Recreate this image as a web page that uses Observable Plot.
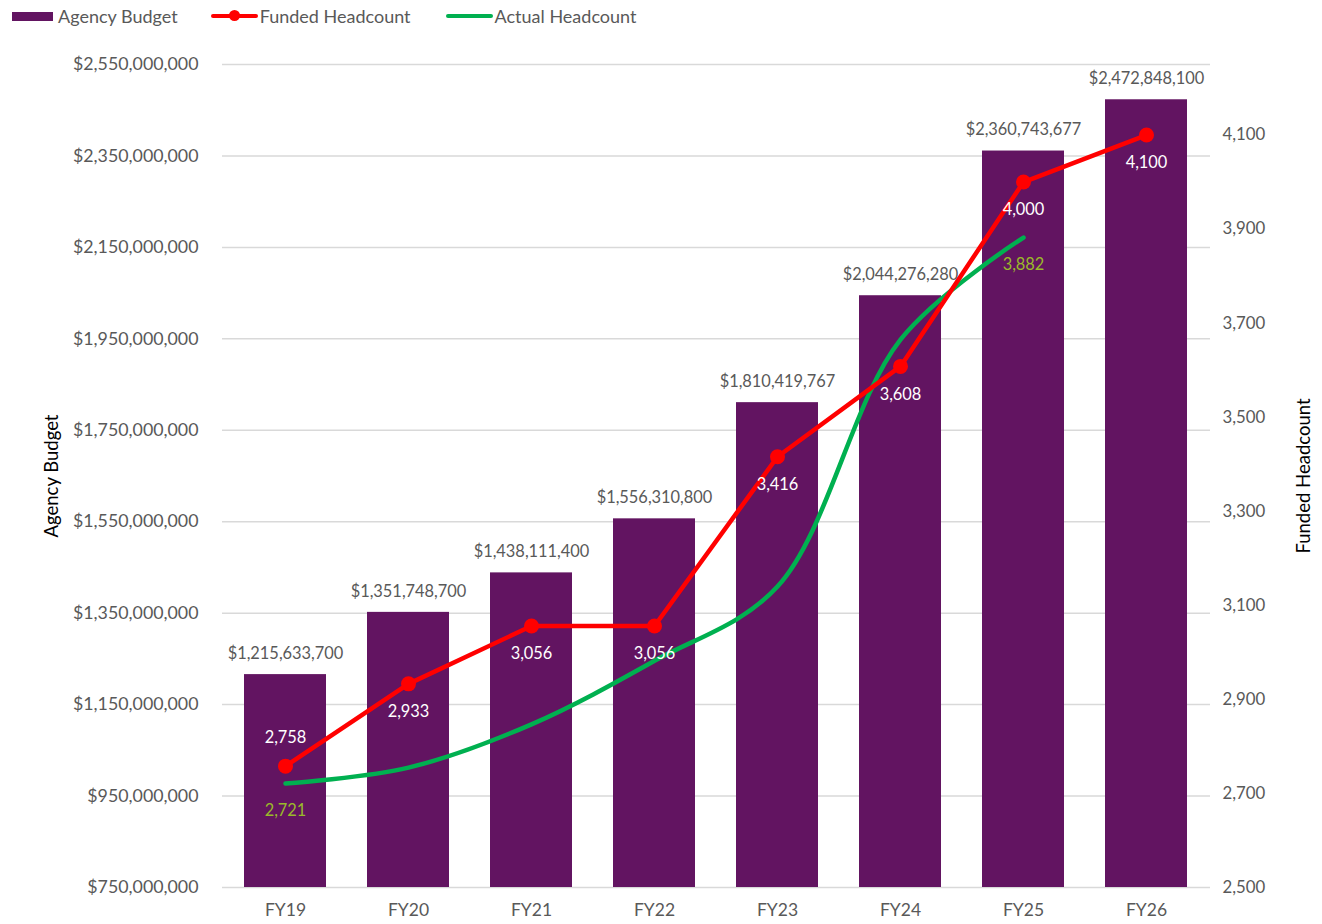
<!DOCTYPE html>
<html>
<head>
<meta charset="utf-8">
<script src="https://cdn.jsdelivr.net/npm/d3@7"></script>
<script src="https://cdn.jsdelivr.net/npm/@observablehq/plot@0.6"></script>
<style>
  html, body { margin: 0; padding: 0; background: #fff; }
  body { width: 1322px; height: 924px; overflow: hidden; font-family: Lato, "Open Sans", sans-serif; }
  .legend { height: 32px; display: flex; align-items: center; padding-left: 12px; font-size: 18px; color: #595959; }
  .item { display: flex; align-items: center; }
  .sw { display: inline-block; width: 41px; height: 9px; margin-right: 5px; }
  .ln { position: relative; display: inline-block; width: 47px; height: 4px; border-radius: 2px; margin-right: 2px; }
  .ln .dt { position: absolute; left: 18px; top: -4px; width: 11px; height: 11px; border-radius: 50%; background: #ff0000; }
  #chart svg { display: block; }
</style>
</head>
<body>
<div class="legend">
  <span class="item"><span class="sw" style="background:#621461"></span>Agency Budget</span>
  <span class="item" style="margin-left:33px"><span class="ln" style="background:#ff0000"><span class="dt"></span></span>Funded Headcount</span>
  <span class="item" style="margin-left:35px"><span class="ln" style="background:#00b050"></span>Actual Headcount</span>
</div>
<div id="chart"></div>
<script>
const years = ["FY19", "FY20", "FY21", "FY22", "FY23", "FY24", "FY25", "FY26"];
const budget = [1215633700, 1351748700, 1438111400, 1556310800, 1810419767, 2044276280, 2360743677, 2472848100];
const funded = [2758, 2933, 3056, 3056, 3416, 3608, 4000, 4100];
const actualYears = ["FY19", "FY20", "FY21", "FY22", "FY23", "FY24", "FY25"];
const actual = [2721, 2755, 2847, 2982, 3140, 3665, 3882];
const actualLabeled = ["FY19", "FY25"];
const leftTicks = [750e6, 950e6, 1150e6, 1350e6, 1550e6, 1750e6, 1950e6, 2150e6, 2350e6, 2550e6];
const rightTicks = [2500, 2700, 2900, 3100, 3300, 3500, 3700, 3900, 4100];
const leftDomain = [750e6, 2550e6];
const rightDomain = [2500, 4250];

// map headcount onto the primary (budget) y scale for the secondary axis
const hc = d3.scaleLinear(rightDomain, leftDomain);

const budgetData = years.map((y, i) => ({year: y, budget: budget[i]}));
const fundedData = years.map((y, i) => ({year: y, funded: funded[i]}));
const actualData = actualYears.map((y, i) => ({year: y, actual: actual[i]}));

const fmtMoney = d => "$" + d3.format(",")(d);
const fmtNum = d3.format(",");

const chart = Plot.plot({
  width: 1322,
  height: 892,
  marginTop: 32,
  marginBottom: 37,
  marginLeft: 222,
  marginRight: 112,
  style: {fontFamily: "Lato, 'Open Sans', sans-serif", fontSize: "16px", color: "#595959", background: "#fff"},
  x: {domain: years, paddingInner: 0.33, paddingOuter: 0.165, label: null},
  y: {domain: leftDomain, label: null},
  marks: [
    Plot.gridY(leftTicks, {stroke: "#d9d9d9", strokeOpacity: 1, strokeWidth: 1.5}),
    Plot.barY(budgetData, {x: "year", y1: () => leftDomain[0], y2: "budget", fill: "#621461"}),
    Plot.axisY(leftTicks, {anchor: "left", tickSize: 0, tickPadding: 24, tickFormat: fmtMoney, label: null, fontSize: 17.8}),
    Plot.axisY(rightTicks.map(hc), {anchor: "right", tickSize: 0, tickPadding: 12, tickFormat: d => fmtNum(Math.round(hc.invert(d))), label: null, fontSize: 16.8}),
    Plot.axisX({tickSize: 0, tickPadding: 16, label: null, fontSize: 17.5}),
    Plot.text(["Agency Budget"], {text: d => d, frameAnchor: "left", textAnchor: "middle", dx: -170, rotate: -90, fill: "#000", fontSize: 18.5}),
    Plot.text(["Funded Headcount"], {text: d => d, frameAnchor: "right", textAnchor: "middle", dx: 94, rotate: -90, fill: "#000", fontSize: 18.5}),
    Plot.text(budgetData, {x: "year", y: "budget", text: d => fmtMoney(d.budget), dy: -21, fill: "#595959", fontSize: 16.4}),
    Plot.lineY(actualData, {x: "year", y: d => hc(d.actual), curve: "catmull-rom", stroke: "#00b050", strokeWidth: 4.5, strokeLinecap: "round"}),
    Plot.lineY(fundedData, {x: "year", y: d => hc(d.funded), stroke: "#ff0000", strokeWidth: 4.5, strokeLinejoin: "round"}),
    Plot.dot(fundedData, {x: "year", y: d => hc(d.funded), r: 7.5, fill: "#ff0000", stroke: "none"}),
    Plot.text(fundedData.filter(d => d.year === "FY19"), {x: "year", y: d => hc(d.funded), text: d => fmtNum(d.funded), dy: -28, fill: "#fff", fontSize: 16.4}),
    Plot.text(fundedData.filter(d => d.year !== "FY19"), {x: "year", y: d => hc(d.funded), text: d => fmtNum(d.funded), dy: 28, fill: "#fff", fontSize: 16.4}),
    Plot.text(actualData.filter(d => actualLabeled.includes(d.year)), {x: "year", y: d => hc(d.actual), text: d => fmtNum(d.actual), dy: 27, fill: "#9aba2a", fontSize: 16.4})
  ]
});
document.getElementById("chart").append(chart);
</script>
</body>
</html>
